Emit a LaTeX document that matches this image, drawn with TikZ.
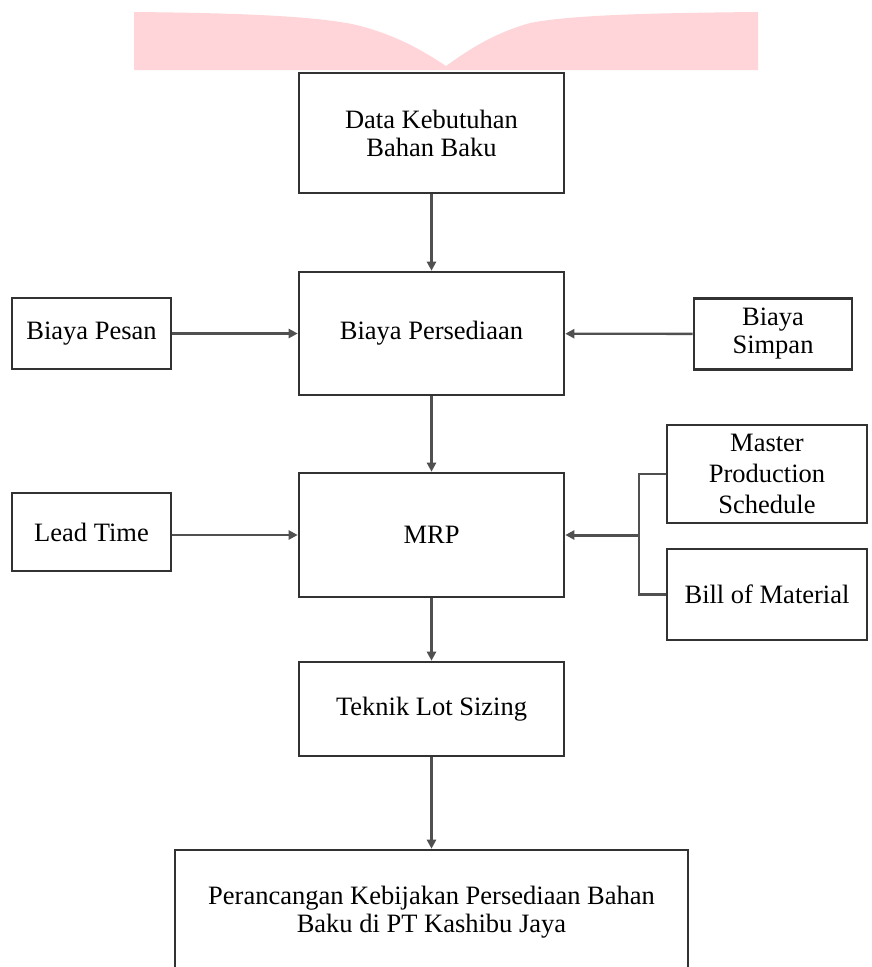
\documentclass[tikz,border=0pt]{standalone}
\usepackage{fontspec}
\setmainfont{Liberation Serif}
\usetikzlibrary{arrows.meta}
\definecolor{pinkband}{RGB}{255,213,217}
\definecolor{boxline}{RGB}{50,50,50}
\definecolor{conline}{RGB}{80,80,80}
\tikzset{
  box/.style={draw=boxline, line width=2.6pt, fill=white, inner sep=0pt, align=center,
    font=\fontsize{26.5}{28}\selectfont},
  conn/.style={draw=conline, line width=2.3pt, -{Triangle[length=9pt,width=9pt]}},
  plain/.style={draw=conline, line width=2.3pt},
}
\begin{document}
\begin{tikzpicture}[x=1pt,y=-1pt]
\useasboundingbox (0,0) rectangle (872,967);
\clip (0,0) rectangle (872,967);
% pink band
\fill[pinkband] (134,12) .. controls (240,13) and (310,16) .. (352,24)
  .. controls (392,33) and (422,50) .. (446,66)
  .. controls (468,50) and (494,33) .. (530,23)
  .. controls (570,15) and (650,13) .. (758,12)
  -- (758,70) -- (134,70) -- cycle;
% nodes
\node[box, minimum width=265pt, minimum height=120pt] (d1) at (431.5,133) {Data Kebutuhan\\Bahan Baku};
\node[box, minimum width=265pt, minimum height=123pt] (d2) at (431.5,333.5) {Biaya Persediaan};
\node[box, minimum width=159pt, minimum height=71pt] (pesan) at (91.5,333.5) {Biaya Pesan};
\node[box, minimum width=158pt, minimum height=71pt] (simpan) at (773,334) {Biaya\\Simpan};
\node[box, minimum width=265pt, minimum height=124pt] (mrp) at (431.5,535) {MRP};
\node[box, minimum width=159pt, minimum height=78pt] (lead) at (91.5,532) {Lead Time};
\node[box, minimum width=200pt, minimum height=98pt, font=\fontsize{26.5}{31}\selectfont] (mps) at (767,474) {Master\\Production\\Schedule};
\node[box, minimum width=200pt, minimum height=91pt] (bom) at (767,594.5) {Bill of Material};
\node[box, minimum width=265pt, minimum height=94pt] (lot) at (431.5,709) {Teknik Lot Sizing};
\node[box, minimum width=513pt, minimum height=124pt] (fin) at (431.5,912) {Perancangan Kebijakan Persediaan Bahan\\Baku di PT Kashibu Jaya};
\coordinate (br) at (639,535);
% connectors
\draw[conn] (d1) -- (d2);
\draw[conn] (pesan) -- (d2);
\draw[conn] (simpan) -- (d2);
\draw[conn] (d2) -- (mrp);
\draw[conn] (lead.east |- mrp.west) -- (mrp.west);
\draw[plain] (mps.west) -| (br) |- (bom.west);
\draw[conn, line width=3pt] (br) -- (mrp);
\draw[conn] (mrp) -- (lot);
\draw[conn] (lot) -- (fin);
\end{tikzpicture}
\end{document}
